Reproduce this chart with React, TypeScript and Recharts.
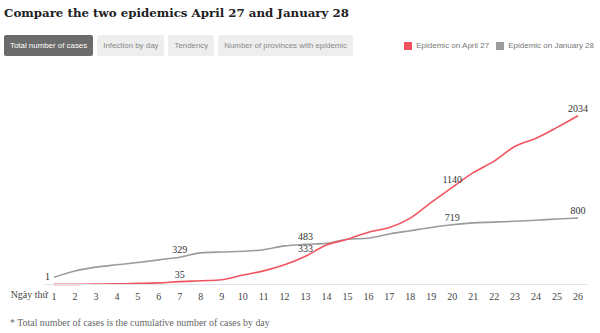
import { LineChart, Line, XAxis, YAxis, Legend } from 'recharts';

const days = ['1', '2', '3', '4', '5', '6', '7', '8', '9', '10', '11', '12', '13', '14', '15', '16', '17', '18', '19', '20', '21', '22', '23', '24', '25', '26'];

// cumulative cases, epidemic from April 27
const aprilCases = [1, 2, 4, 8, 13, 20, 35, 45, 58, 114, 164, 237, 340, 476, 545, 629, 686, 800, 990, 1170, 1348, 1486, 1665, 1763, 1893, 2034];

// cumulative cases, epidemic from January 28
const januaryCases = [88, 163, 209, 237, 266, 297, 329, 381, 392, 400, 419, 465, 483, 495, 545, 558, 609, 648, 686, 719, 743, 751, 762, 774, 789, 800];

// labelled points (index -> text)
const aprilNotes: Record<number, string> = { 6: '35', 12: '333', 19: '1140', 25: '2034' };
const januaryNotes: Record<number, string> = { 0: '1', 6: '329', 12: '483', 19: '719', 25: '800' };

const tabs = ['Total number of cases', 'Infection by day', 'Tendency', 'Number of provinces with epidemic'];

const RED = '#f2545f';
const GRAY = '#9b9b9b';
const SERIF = '"Liberation Serif", serif';
const SANS = '"Liberation Sans", Arial, sans-serif';

const data = days.map((day, i) => ({ day, april: aprilCases[i], january: januaryCases[i] }));

function makeLabel(notes: Record<number, string>) {
  return (props: any) => {
    const { x, y, index } = props;
    const text = notes[index];
    if (!text) return null;
    const first = index === 0;
    return (
      <text
        key={index}
        x={first ? x - 4 : x}
        y={first ? y + 3 : y - 4}
        textAnchor={first ? 'end' : 'middle'}
        fontSize={10}
        fontFamily={SERIF}
        fill="#333"
      >
        {text}
      </text>
    );
  };
}

function LegendBox() {
  const item = (color: string, label: string) => (
    <span style={{ display: 'inline-flex', alignItems: 'center', marginLeft: 7 }}>
      <span style={{ width: 8, height: 8, background: color, display: 'inline-block', marginRight: 4 }} />
      <span>{label}</span>
    </span>
  );
  return (
    <div style={{ fontFamily: SANS, fontSize: 8, color: '#777', whiteSpace: 'nowrap' }}>
      {item(RED, 'Epidemic on April 27')}
      {item(GRAY, 'Epidemic on January 28')}
    </div>
  );
}

export default function App() {
  return (
    <div style={{ position: 'absolute', left: 0, top: 0, width: 600, height: 333, background: '#fff', overflow: 'hidden' }}>
      <LineChart width={600} height={333} data={data} margin={{ top: 77, right: 12, bottom: 18, left: 44 }}>
        <XAxis
          dataKey="day"
          interval={0}
          height={20}
          padding={{ left: 10, right: 10 }}
          tickLine={false}
          axisLine={{ stroke: '#dde4ee' }}
          tick={{ fontSize: 10, fill: '#444', fontFamily: SERIF }}
          label={{ value: 'Ngày thứ', position: 'left', offset: -4, fontSize: 10, fill: '#444', fontFamily: SERIF }}
        />
        <YAxis hide domain={[0, 2500]} />
        <Legend content={<LegendBox />} wrapperStyle={{ position: 'absolute', top: 41, right: 6, left: 'auto', width: 'auto' }} />
        <Line
          type="monotone"
          dataKey="january"
          stroke={GRAY}
          strokeWidth={1.6}
          dot={false}
          isAnimationActive={false}
          label={makeLabel(januaryNotes)}
        />
        <Line
          type="monotone"
          dataKey="april"
          stroke={RED}
          strokeWidth={1.6}
          dot={false}
          isAnimationActive={false}
          label={makeLabel(aprilNotes)}
        />
      </LineChart>

      <div style={{ position: 'absolute', left: 4, top: 6, fontFamily: '"DejaVu Serif", serif', fontWeight: 700, fontSize: 11.8, color: '#222', whiteSpace: 'nowrap' }}>
        Compare the two epidemics April 27 and January 28
      </div>

      <div style={{ position: 'absolute', left: 4, top: 35, display: 'flex', gap: 4 }}>
        {tabs.map((t, i) => (
          <div
            key={t}
            style={{
              height: 21,
              lineHeight: '21px',
              padding: '0 6px',
              borderRadius: 2,
              fontFamily: SANS,
              fontSize: 7.9,
              whiteSpace: 'nowrap',
              background: i === 0 ? '#6b6b6b' : '#eeeeee',
              color: i === 0 ? '#fff' : '#888',
            }}
          >
            {t}
          </div>
        ))}
      </div>

      <div style={{ position: 'absolute', left: 10, top: 317, fontFamily: SERIF, fontSize: 9.9, color: '#666', whiteSpace: 'nowrap' }}>
        * Total number of cases is the cumulative number of cases by day
      </div>
    </div>
  );
}
